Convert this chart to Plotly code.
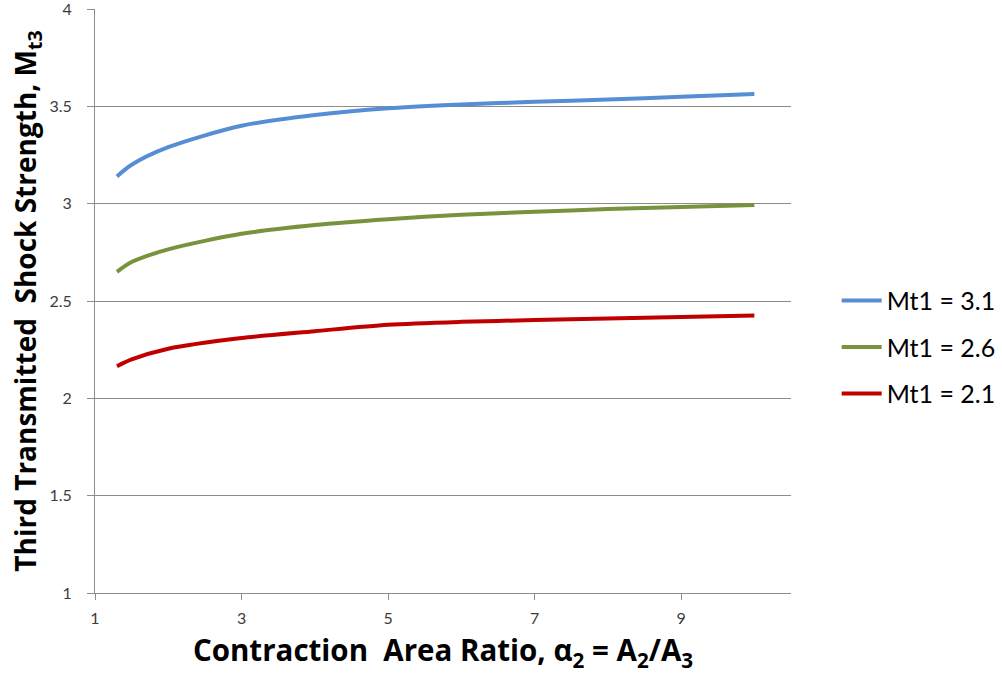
import plotly.graph_objects as go

# Contraction area ratio alpha2 = A2/A3
area_ratio = [1.3, 1.5, 2, 3, 4, 5, 6, 7, 8, 9, 10]

# Third transmitted shock strength Mt3 for each incident strength Mt1
mt3_31 = [3.14, 3.20, 3.29, 3.40, 3.455, 3.49, 3.51, 3.523, 3.535, 3.549, 3.563]
mt3_26 = [2.65, 2.70, 2.765, 2.845, 2.89, 2.92, 2.943, 2.958, 2.972, 2.983, 2.993]
mt3_21 = [2.165, 2.20, 2.255, 2.31, 2.345, 2.378, 2.393, 2.402, 2.41, 2.418, 2.425]

series = [
    ("Mt1 = 3.1", mt3_31, "#558ED5"),
    ("Mt1 = 2.6", mt3_26, "#77933C"),
    ("Mt1 = 2.1", mt3_21, "#C00000"),
]

x_ticks = [1, 3, 5, 7, 9]
y_ticks = [1, 1.5, 2, 2.5, 3, 3.5, 4]

font_family = "Lato, 'Open Sans', sans-serif"
title_family = "'Open Sans', Lato, sans-serif"
grid_color = "#8C8C8C"
tick_color = "#3C3C3C"

fig = go.Figure()
for i, (name, vals, color) in enumerate(series):
    fig.add_trace(go.Scatter(
        x=area_ratio, y=vals, name=name, mode="lines",
        line=dict(color=color, width=4, shape="spline", smoothing=0.8),
        legendgroup=f"g{i}",
    ))

fig.update_layout(
    width=1002, height=681,
    margin=dict(l=95, r=211, t=9, b=88, autoexpand=False),
    plot_bgcolor="white", paper_bgcolor="white",
    font=dict(family=font_family, color="#000000"),
    legend=dict(
        xref="container", yref="container",
        x=0.835, y=0.49, xanchor="left", yanchor="middle",
        font=dict(size=25, family=font_family, color="#000000"),
        tracegroupgap=11, traceorder="grouped",
        itemwidth=40, bgcolor="rgba(0,0,0,0)",
    ),
    showlegend=True,
)

fig.update_xaxes(
    range=[1, 10.5], tickvals=x_ticks, ticktext=[str(v) for v in x_ticks],
    showgrid=False, zeroline=False, automargin=False,
    showline=True, linecolor=grid_color, linewidth=1,
    ticks="outside", ticklen=6, tickcolor=grid_color,
    ticklabelstandoff=5, ticklabeloverflow="allow",
    tickfont=dict(size=16, color=tick_color, family=font_family),
    title=dict(text="Contraction  Area Ratio, α<sub>2</sub> = A<sub>2</sub>/A<sub>3</sub>",
               font=dict(size=29.5, family=title_family, color="#000000", weight="bold"),
               standoff=14),
)

fig.update_yaxes(
    range=[1, 4], tickvals=y_ticks, ticktext=[f"{v:g}" for v in y_ticks],
    showgrid=True, gridcolor=grid_color, gridwidth=1, zeroline=False, automargin=False,
    showline=True, linecolor=grid_color, linewidth=1,
    ticks="outside", ticklen=7, tickcolor=grid_color,
    ticklabelstandoff=12, ticklabeloverflow="allow",
    tickfont=dict(size=16, color=tick_color, family=font_family),
    title=dict(text="Third Transmitted  Shock Strength, M<sub>t3</sub>",
               font=dict(size=28, family=title_family, color="#000000", weight="bold"),
               standoff=4),
)

fig.write_html("out.html")
